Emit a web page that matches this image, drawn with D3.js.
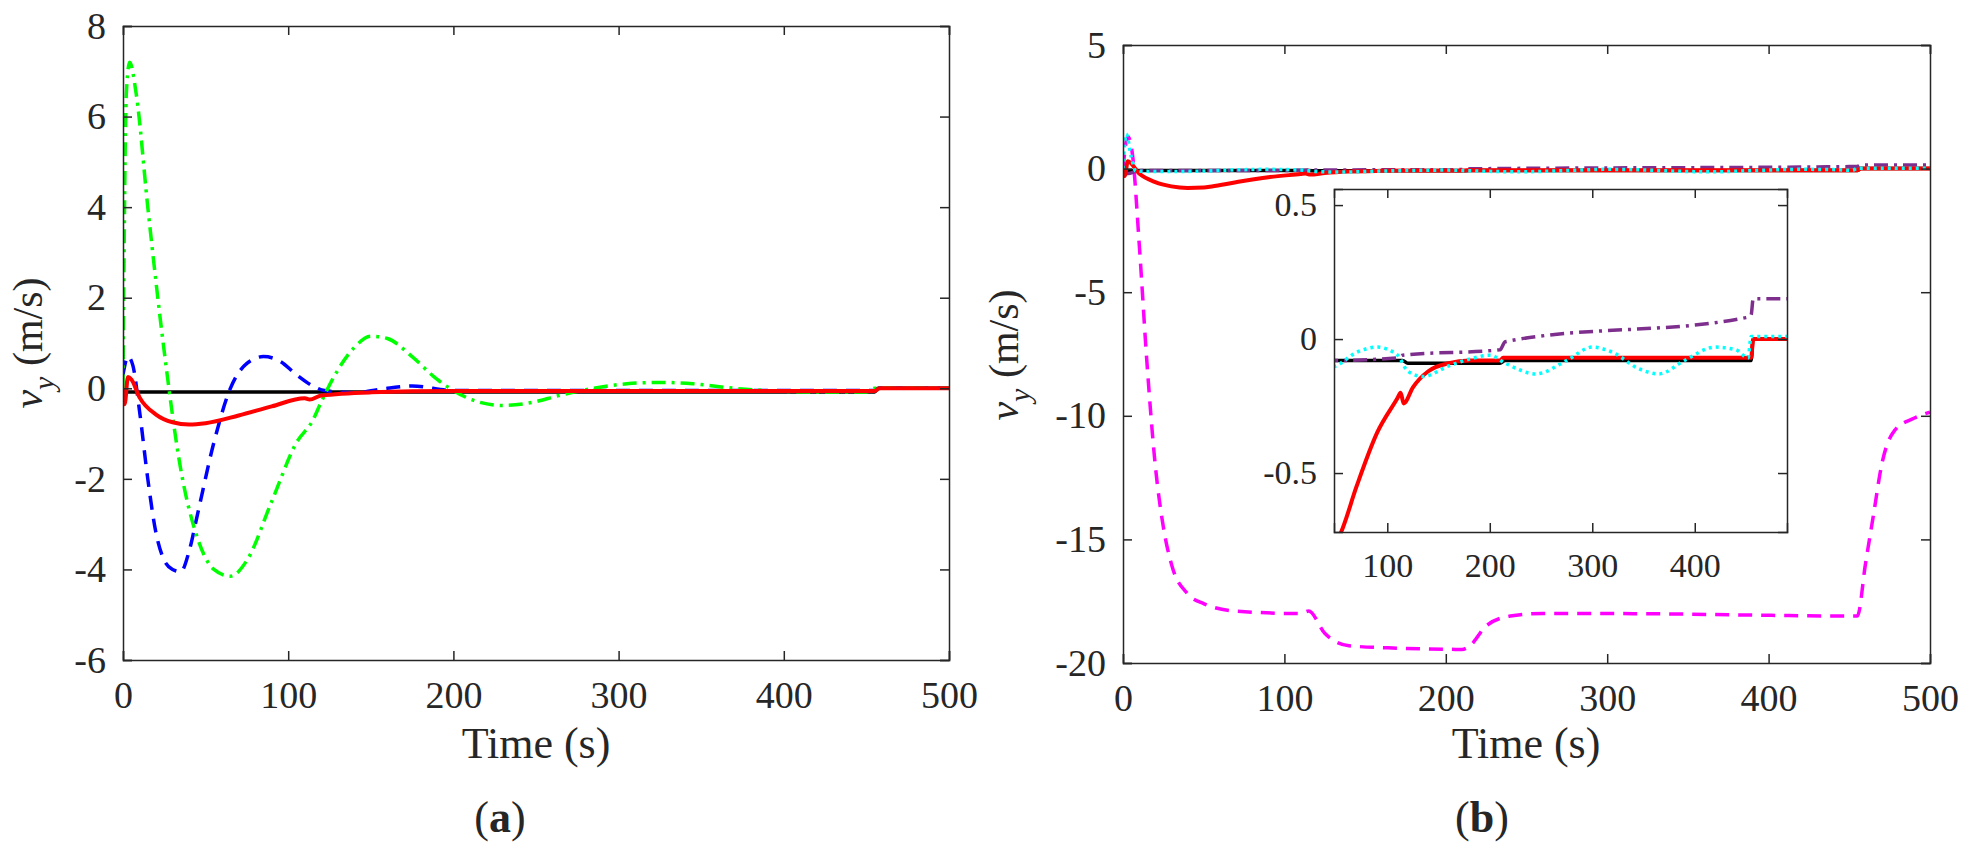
<!DOCTYPE html>
<html><head><meta charset="utf-8">
<script src="https://cdn.jsdelivr.net/npm/d3@7"></script>
<style>body{margin:0;background:#fff}text{font-family:"Liberation Serif","DejaVu Serif",serif;fill:#262626}</style>
</head><body><svg width="1971" height="856"></svg>
<script>
// [t, v] pairs
var blackA = [[0,-0.08],[455,-0.08],[457,0],[500,0]];
var redA = [[0,0],[1,-0.35],[3,0.25],[5,0.2],[10,-0.2],[20,-0.58],[30,-0.75],[40,-0.8],[50,-0.77],[70,-0.6],[90,-0.4],[110,-0.22],[113,-0.25],[120,-0.16],[150,-0.09],[200,-0.06],[455,-0.06],[458,0],[500,0]];
var blueA = [[0,0.3],[3,0.7],[6,0.5],[10,-0.5],[15,-2],[20,-3.2],[25,-3.8],[30,-4],[35,-4.05],[40,-3.6],[45,-2.8],[55,-1.2],[65,0],[75,0.55],[85,0.7],[95,0.6],[105,0.3],[115,0.05],[122,-0.05],[140,-0.1],[160,0],[175,0.05],[200,-0.05],[220,-0.05],[455,-0.05],[458,0],[500,0]];
var greenA = [[0,0],[2,6.5],[4,7.2],[8,6.5],[15,4],[25,0.8],[35,-1.8],[45,-3.3],[55,-4],[65,-4.15],[75,-3.8],[90,-2.5],[105,-1.2],[115,-0.7],[120,-0.3],[130,0.4],[140,0.9],[150,1.15],[160,1.1],[175,0.7],[190,0.2],[200,-0.05],[215,-0.3],[230,-0.38],[245,-0.33],[265,-0.15],[285,0],[305,0.1],[325,0.13],[345,0.1],[370,0],[390,-0.05],[420,-0.08],[450,-0.08],[455,0],[500,0]];

var blackB = [[0,-0.08],[115,-0.08],[120,-0.09],[210,-0.09],[215,-0.08],[455,-0.08],[457,0],[500,0]];
var redB = [[0,0],[1,-0.3],[3,0.3],[10,-0.2],[20,-0.55],[30,-0.72],[40,-0.78],[50,-0.76],[55,-0.72],[70,-0.55],[90,-0.35],[110,-0.22],[113,-0.2],[116,-0.24],[125,-0.18],[140,-0.12],[160,-0.09],[180,-0.08],[210,-0.08],[213,-0.07],[455,-0.07],[457,0],[500,0]];
var cyanB = [[0,0],[2,1.4],[5,0.5],[8,-0.1],[30,-0.12],[50,-0.1],[70,-0.05],[90,-0.03],[110,-0.06],[120,-0.12],[135,-0.14],[160,-0.1],[185,-0.07],[200,-0.06],[215,-0.09],[245,-0.13],[275,-0.08],[300,-0.03],[320,-0.05],[345,-0.11],[365,-0.13],[390,-0.08],[420,-0.03],[440,-0.04],[452,-0.07],[455,0.01],[500,0.01]];
var purpleB = [[0,0],[3,-0.2],[10,-0.08],[50,-0.08],[110,-0.07],[115,-0.06],[210,-0.04],[215,-0.01],[450,0.08],[455,0.09],[457,0.15],[500,0.15]];
var magentaB = [[0,0],[3,1.3],[6,0.5],[10,-3],[15,-8],[20,-12],[25,-14.5],[30,-16],[40,-17.2],[50,-17.6],[70,-17.9],[110,-18],[115,-17.9],[125,-18.8],[140,-19.3],[170,-19.4],[210,-19.45],[215,-19.3],[225,-18.5],[240,-18.1],[260,-18],[300,-18],[455,-18.1],[460,-16],[465,-14],[470,-12],[478,-10.6],[490,-10.1],[500,-9.85]];

var ticksA = [-6,-4,-2,0,2,4,6,8];
var ticksB = [-20,-15,-10,-5,0,5];
var ticksIn = [-0.5,0,0.5];
var xTicks = [0,100,200,300,400,500];
var xTicksIn = [100,200,300,400];

var svg = d3.select("svg");
var clipId = 0;
var serif = '"Liberation Serif","DejaVu Serif",serif';

function panel(o) {
  var x = d3.scaleLinear().domain(o.xd).range([o.l, o.r]);
  var y = d3.scaleLinear().domain(o.yd).range([o.b, o.t]);
  var g = svg.append("g");
  g.append("rect").attr("x", o.l).attr("y", o.t).attr("width", o.r - o.l).attr("height", o.b - o.t).attr("fill", "#fff");
  var id = "clip" + (clipId++);
  g.append("clipPath").attr("id", id).append("rect").attr("x", o.l).attr("y", o.t).attr("width", o.r - o.l).attr("height", o.b - o.t);
  var line = d3.line().x(d => x(d[0])).y(d => y(d[1])).curve(d3.curveMonotoneX);
  var lg = g.append("g").attr("clip-path", "url(#" + id + ")");
  o.series.forEach(s => {
    lg.append("path").attr("d", line(s.data)).attr("fill", "none").attr("stroke", s.c)
      .attr("stroke-width", s.w).attr("stroke-dasharray", s.dash || null).attr("stroke-linejoin", "round");
  });
  var tl = 9, ax = "#262626", fmt = d => String(d);
  var bottom = d3.axisBottom(x).tickValues(o.xt).tickSize(-tl).tickPadding(tl + 12).tickFormat(fmt);
  var top = d3.axisTop(x).tickValues(o.xt).tickSize(-tl).tickFormat("");
  var left = d3.axisLeft(y).tickValues(o.yt).tickSize(-tl).tickPadding(tl + 8).tickFormat(fmt);
  var right = d3.axisRight(y).tickValues(o.yt).tickSize(-tl).tickFormat("");
  [[bottom, "translate(0," + o.b + ")"], [top, "translate(0," + o.t + ")"], [left, "translate(" + o.l + ",0)"], [right, "translate(" + o.r + ",0)"]].forEach(a => {
    var ag = g.append("g").attr("transform", a[1]).call(a[0]).attr("font-family", serif);
    ag.select(".domain").attr("stroke", ax).attr("stroke-width", 1.5);
    ag.selectAll(".tick line").attr("stroke", ax).attr("stroke-width", 1.5);
    ag.selectAll("text").style("font-size", o.fs + "px").style("font-family", serif).attr("fill", "#262626");
  });
  return g;
}

function ylabel(cx, cy) {
  var t = svg.append("text").attr("transform", "translate(" + cx + "," + cy + ") rotate(-90)").attr("text-anchor", "middle").style("font-size", "42px");
  t.append("tspan").style("font-style", "italic").text("v");
  t.append("tspan").attr("dy", 12).style("font-size", "30px").style("font-style", "italic").text("y");
  t.append("tspan").attr("dy", -12).text(" (m/s)");
}

panel({l:123, r:949, t:26, b:660, xd:[0,500], yd:[-6,8], xt:xTicks, yt:ticksA, fs:38,
  series:[{data:blackA,c:"#000",w:3.5},{data:blueA,c:"#0000ff",w:3.5,dash:"14,9"},{data:greenA,c:"#00ff00",w:3.5,dash:"14,6,3,6"},{data:redA,c:"#ff0000",w:4}]});
ylabel(42, 343);
svg.append("text").attr("x", 536).attr("y", 758).attr("text-anchor", "middle").style("font-size", "44px").text("Time (s)");
var la = svg.append("text").attr("x", 500).attr("y", 832).attr("text-anchor", "middle").style("font-size", "44px");
la.append("tspan").text("("); la.append("tspan").style("font-weight", "bold").text("a"); la.append("tspan").text(")");

panel({l:1123, r:1930, t:45, b:663, xd:[0,500], yd:[-20,5], xt:xTicks, yt:ticksB, fs:38,
  series:[{data:blackB,c:"#000",w:3.5},{data:magentaB,c:"#ff00ff",w:3.5,dash:"14,9"},{data:purpleB,c:"#7e2f8e",w:3.5,dash:"14,6,3,6"},{data:redB,c:"#ff0000",w:4},{data:cyanB,c:"#00ffff",w:3.5,dash:"3,4"}]});
ylabel(1018, 355);
svg.append("text").attr("x", 1526).attr("y", 758).attr("text-anchor", "middle").style("font-size", "44px").text("Time (s)");
var lb = svg.append("text").attr("x", 1482).attr("y", 832).attr("text-anchor", "middle").style("font-size", "44px");
lb.append("tspan").text("("); lb.append("tspan").style("font-weight", "bold").text("b"); lb.append("tspan").text(")");

panel({l:1334, r:1787, t:189, b:532, xd:[48,490], yd:[-0.72,0.56], xt:xTicksIn, yt:ticksIn, fs:34,
  series:[{data:blackB,c:"#000",w:3.5},{data:purpleB,c:"#7e2f8e",w:3.5,dash:"14,6,3,6"},{data:redB,c:"#ff0000",w:4},{data:cyanB,c:"#00ffff",w:3.5,dash:"3,4"}]});
</script></body></html>
